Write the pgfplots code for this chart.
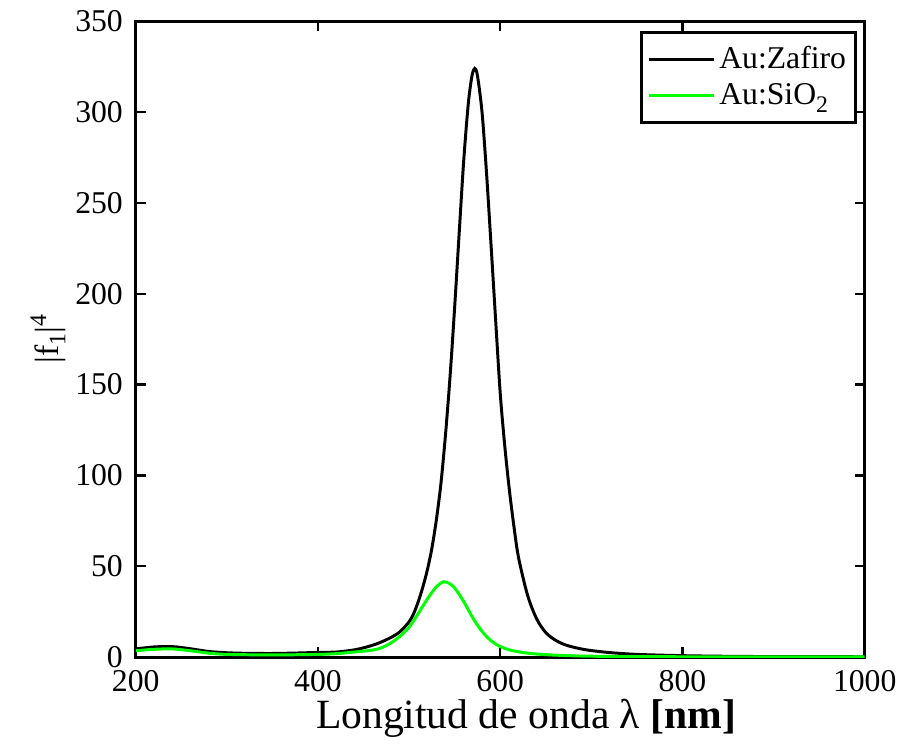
\documentclass[border=0pt]{standalone}
\usepackage{fontspec}
\setmainfont{Liberation Serif}
\usepackage{pgfplots}
\pgfplotsset{compat=1.18}
\definecolor{lgreen}{RGB}{0,255,0}
\begin{document}
\fontsize{16}{19}\selectfont
\begin{tikzpicture}
\begin{axis}[
  scale only axis,
  width=368pt, height=321pt,
  xmin=200, xmax=1000, ymin=0, ymax=350,
  xtick={200,400,600,800,1000},
  ytick={0,50,100,150,200,250,300,350},
  tick align=inside,
  tick style={line width=1.2pt, black},
  major tick length=5pt,
  axis line style={line width=1.5pt},
  /pgf/number format/assume math mode=true,
  /pgf/number format/1000 sep={},
  ticklabel style={font=\fontsize{16}{19}\selectfont},
  xticklabel style={yshift=-1pt},
  yticklabel style={xshift=-1pt},
  xlabel={Longitud de onda λ \textbf{[nm]}},
  ylabel={|f\raisebox{-0.45ex}{\fontsize{12}{14}\selectfont 1}|\raisebox{0.8ex}{\fontsize{12}{14}\selectfont 4}},
  xlabel style={font=\fontsize{21}{25}\selectfont, yshift=7pt, xshift=13pt},
  ylabel style={font=\fontsize{17}{20}\selectfont, yshift=-6pt},
  scaled ticks=false,
  legend style={at={(0.99,0.985)}, anchor=north east, draw=black, line width=1.5pt,
    font=\fontsize{16}{19}\selectfont, inner xsep=3pt, inner ysep=5pt, row sep=1pt},
  legend cell align=left,
  legend image code/.code={\draw[#1, line width=1.5pt] (0pt,0pt) -- (1.15cm,0pt);},
]
\addplot[black, line width=1.5pt, smooth] coordinates {
(200,4.5)(220,5.6)(240,5.8)(260,4.6)(280,3.1)(300,2.4)(320,2.1)(350,2.0)(380,2.3)(400,2.6)(420,2.8)(440,4.0)(455,5.8)(467,7.8)(480,10.8)(490,14)(500,19.5)(505,24)(510,30.5)(515,38.5)(520,48)(525,60)(530,76)(535,96)(540,123)(545,155)(550,193)(555,234)(560,274)(565,305)(569,320)(572,324)(575,320)(580,300)(585,266)(590,226)(595,185)(600,145)(605,116)(610,92)(615,72)(620,55)(630,34)(640,21)(650,13.5)(660,9.5)(670,7.0)(680,5.5)(690,4.4)(700,3.6)(720,2.5)(750,1.5)(800,0.8)(850,0.45)(900,0.3)(1000,0.2)
};
\addlegendentry{Au:Zafiro}
\addplot[lgreen, line width=1.5pt, smooth] coordinates {
(200,3.5)(220,4.3)(240,4.5)(260,3.5)(280,2.2)(300,1.5)(350,1.2)(400,1.5)(420,1.9)(440,2.8)(460,3.9)(470,5.2)(480,7.8)(490,11.5)(500,16.5)(510,24)(520,32)(530,38.8)(538,41.5)(545,40.3)(550,38)(555,34.5)(560,30.5)(565,26)(570,21.5)(575,17.6)(580,14.2)(585,11.3)(590,9)(595,7.2)(600,5.8)(610,4.0)(620,2.9)(630,2.2)(640,1.7)(660,1.1)(700,0.5)(800,0.2)(1000,0.1)
};
\addlegendentry{Au:SiO\raisebox{-0.55ex}{\fontsize{12}{14}\selectfont 2}}
\end{axis}
\path (current bounding box.west) ++(-10pt,0) coordinate (padL);
\path (padL) -- (current bounding box.east);
\end{tikzpicture}
\end{document}
